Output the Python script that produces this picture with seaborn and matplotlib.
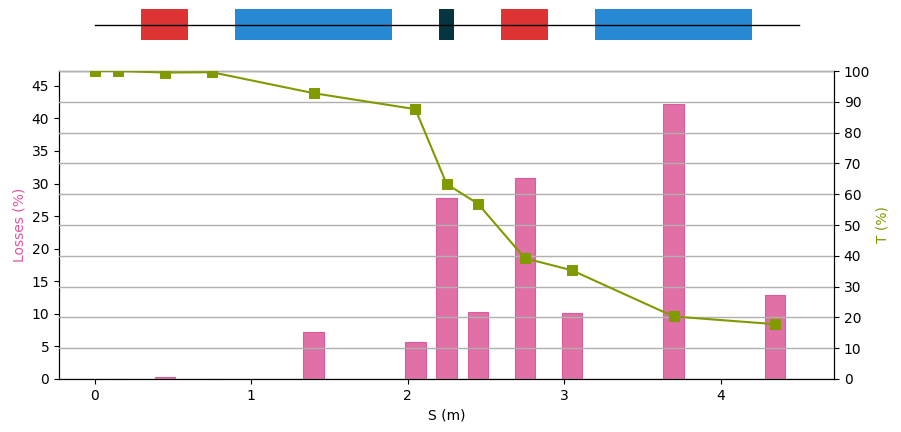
import matplotlib
matplotlib.use("Agg")
import matplotlib.pyplot as plt
import seaborn as sns
import pandas as pd
from matplotlib.patches import Rectangle

# Data
s_pos = [0.0, 0.15, 0.45, 0.75, 1.40, 2.05, 2.25, 2.45, 2.75, 3.05, 3.70, 4.35]
losses = [0.0, 0.05, 0.3, 0.05, 7.2, 5.7, 27.7, 10.3, 30.8, 10.1, 42.2, 12.9]
transmission = [100.0, 100.0, 99.5, 99.6, 92.8, 87.6, 63.3, 56.9, 39.2, 35.3, 20.3, 17.8]

elem_start = [0.30, 0.90, 2.20, 2.60, 3.20]
elem_end = [0.60, 1.90, 2.30, 2.90, 4.20]
elem_color = ["#DD3333", "#2789D4", "#063541", "#DD3333", "#2789D4"]
line_end = 4.5

bar_color = "#E070A5"
line_color = "#809A00"

df = pd.DataFrame({"s": s_pos, "loss": losses, "T": transmission})

fig = plt.figure(figsize=(9.01, 4.32), dpi=100)
ax = fig.add_axes([59 / 901, 53 / 432, 775 / 901, 308 / 432])
ax2 = ax.twinx()

bar_w = 0.13
sns.barplot(data=df, x="s", y="loss", native_scale=True, width=bar_w / 0.15,
            color=bar_color, saturation=1, edgecolor="#DA5C9F", linewidth=0.8,
            ax=ax, zorder=2)
ax.set_xlim(-0.227, 4.725)
ax.set_ylim(0, max(losses) * 1.12)
ax.set_yticks(range(0, 50, 5))
ax.set_xticks([0, 1, 2, 3, 4])
ax.set_xticklabels(["0", "1", "2", "3", "4"])
ax.set_xlabel("S (m)")
ax.set_ylabel("Losses (%)", color="#E0559E")
ax.grid(False)

sns.lineplot(data=df, x="s", y="T", ax=ax2, color=line_color, marker="s",
             markersize=6.5, markeredgecolor=line_color, linewidth=1.5, zorder=3)
ax2.set_ylim(0, 100)
ax2.set_yticks(range(0, 101, 10))
ax2.set_ylabel("T (%)", color=line_color)
ax2.grid(True, color="#b0b0b0", linewidth=1)
ax2.set_axisbelow(False)
ax2.set_xlim(-0.227, 4.725)

for a in (ax, ax2):
    for sp in a.spines.values():
        sp.set_color("black")
    a.tick_params(colors="black")

# Beamline layout
axt = fig.add_axes([59 / 901, (432 - 49) / 432, 775 / 901, 49 / 432])
axt.set_xlim(-0.227, 4.725)
axt.set_ylim(-1, 1)
axt.axis("off")
axt.plot([0, line_end], [0, 0], color="black", lw=1, zorder=3)
for x0, x1, c in zip(elem_start, elem_end, elem_color):
    axt.add_patch(Rectangle((x0, -0.63), x1 - x0, 1.26, facecolor=c,
                            edgecolor="none", zorder=2))

fig.savefig("out.png", dpi=100)
